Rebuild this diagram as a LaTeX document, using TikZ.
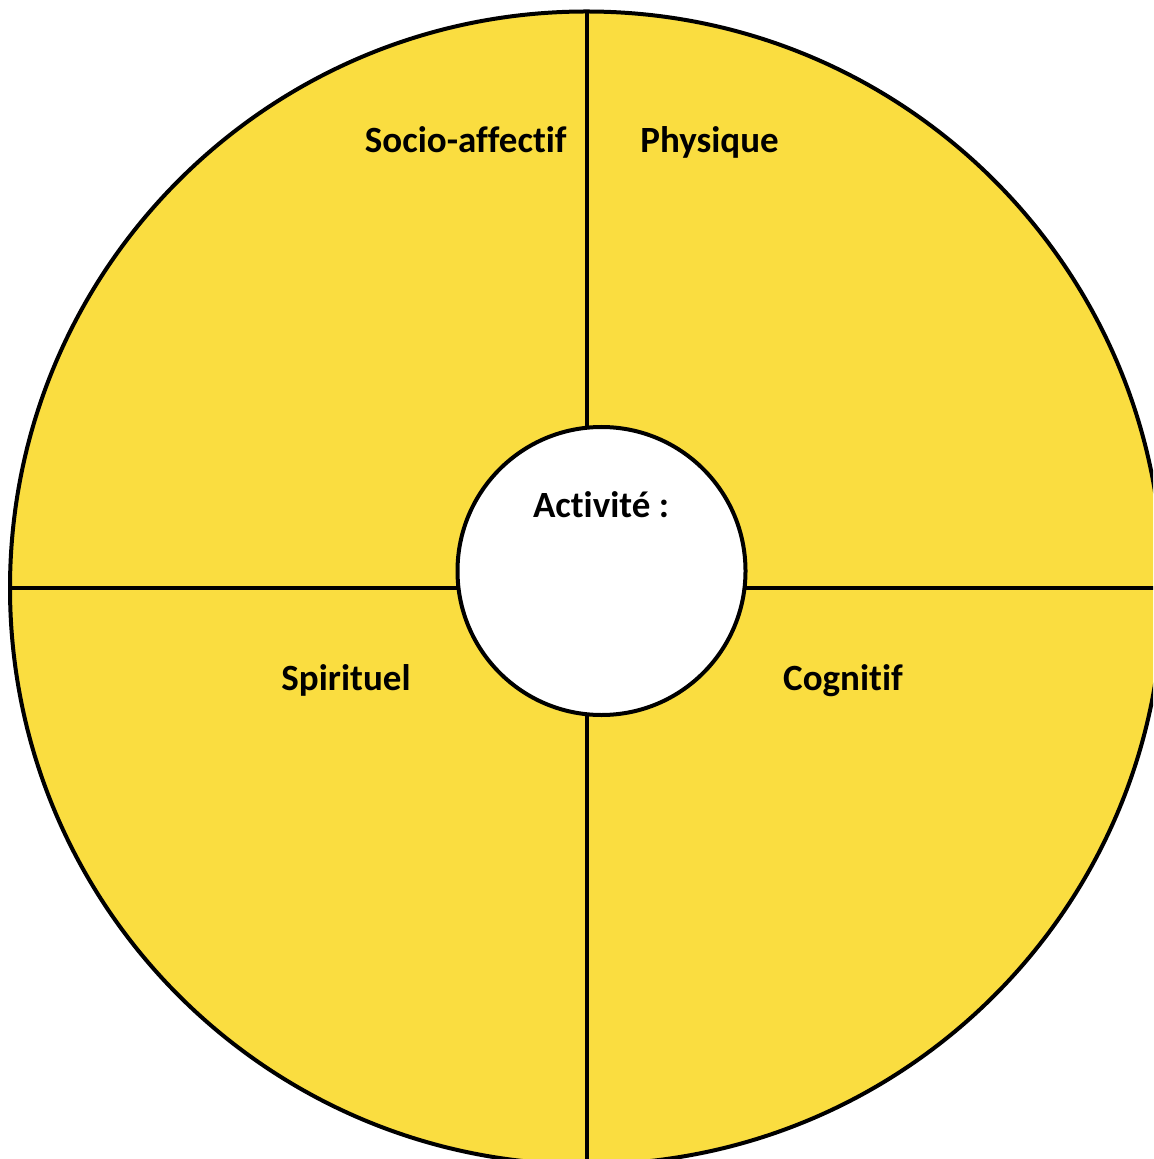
\documentclass[tikz,border=0pt]{standalone}
\usepackage{fontspec}
\setmainfont[Ligatures={NoCommon}]{Carlito}
\definecolor{wheelyellow}{RGB}{250,221,64}
\tikzset{
  ring/.style={circle, draw=black, line width=2pt, inner sep=0pt},
  divider/.style={draw=black, line width=2pt},
  label/.style={font=\bfseries\fontsize{18.5}{21}\selectfont, inner sep=0pt, text=black}
}
\begin{document}
\begin{tikzpicture}[x=0.5pt,y=-0.5pt]
\useasboundingbox (0,0) rectangle (1153,1159);
\clip (0,0) rectangle (1153,1159);
\node[circle, fill=wheelyellow, inner sep=0pt, minimum size=576.5pt] (outerfill) at (586.5,588) {};
\coordinate (top) at (586.5,0);
\coordinate (bottom) at (586.5,1170);
\coordinate (left) at (0,588);
\coordinate (right) at (1170,588);
\begin{scope}
  \clip (outerfill.center) circle[radius=288.25pt];
  \draw[divider] (top) -- (bottom);
  \draw[divider] (left) -- (right);
\end{scope}
\node[ring, minimum size=576.5pt] (outer) at (586.5,588) {};
\node[ring, fill=white, minimum size=144pt] (inner) at (601.5,571) {};
\node[label, anchor=base east] (socio) at (567,153) {Socio-affectif};
\node[label, anchor=base west] (phys) at (640,153) {Physique};
\node[label, anchor=base] (act) at (601,517) {Activité :};
\node[label, anchor=base] (spir) at (346,690) {Spirituel};
\node[label, anchor=base] (cogn) at (843,690) {Cognitif};
\end{tikzpicture}
\end{document}
